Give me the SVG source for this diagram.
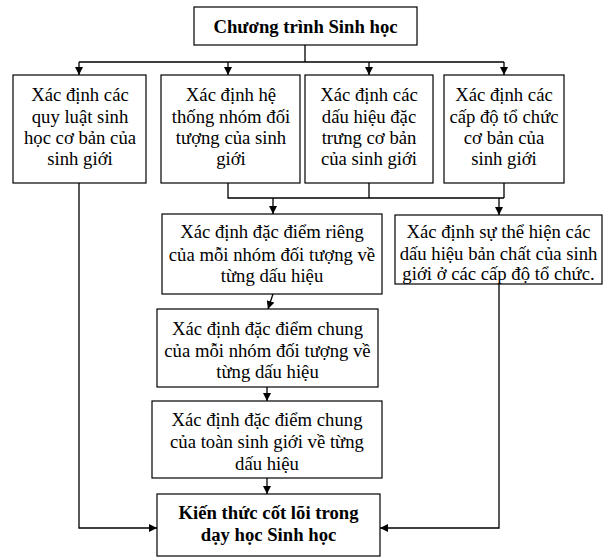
<svg xmlns="http://www.w3.org/2000/svg" width="606" height="560" viewBox="0 0 606 560">
<defs>
<marker id="ah" markerWidth="8" markerHeight="8" refX="8" refY="4" orient="auto" markerUnits="userSpaceOnUse">
<path d="M0,0 L8,4 L0,8 Z" fill="#000"/>
</marker>
<style>
.box{fill:#fff;stroke:#000;stroke-width:1.2}
.t{font-family:"Liberation Serif","Times New Roman",serif;font-size:18.7px;fill:#000;text-anchor:middle}
.b{font-weight:bold}
.c{fill:none;stroke:#000;stroke-width:1.3}
.a{marker-end:url(#ah)}
</style>
</defs>
<rect width="606" height="560" fill="#fff"/>
<g id="connectors">
<path class="c" d="M305,45 V62 M79,62 H504"/>
<path class="c a" d="M79,62 V75"/>
<path class="c a" d="M228,62 V75"/>
<path class="c a" d="M369,62 V75"/>
<path class="c a" d="M504,62 V75"/>
<path class="c" d="M228,183 V198 H504 M369,183 V198 M504,183 V198"/>
<path class="c a" d="M273,198 V214"/>
<path class="c a" d="M499,198 V215"/>
<path class="c a" d="M273,294 L268,309"/>
<path class="c a" d="M267,387 V401"/>
<path class="c a" d="M267,478 V494"/>
<path class="c a" d="M79,183 V528 H157"/>
<path class="c a" d="M499,284 V528 H380"/>
</g>
<g id="n0">
<rect class="box" x="194" y="7" width="223" height="38"/>
<text class="t b" x="305.5" y="33">Chương trình Sinh học</text>
</g>
<g id="n1">
<rect class="box" x="13" y="75" width="133" height="108"/>
<text class="t" x="80" y="101">Xác định các</text>
<text class="t" x="80" y="123">quy luật sinh</text>
<text class="t" x="80" y="144">học cơ bản của</text>
<text class="t" x="80" y="165">sinh giới</text>
</g>
<g id="n2">
<rect class="box" x="161" y="75" width="139" height="108"/>
<text class="t" x="231" y="101">Xác định hệ</text>
<text class="t" x="231" y="123">thống nhóm đối</text>
<text class="t" x="231" y="144">tượng của sinh</text>
<text class="t" x="231" y="165">giới</text>
</g>
<g id="n3">
<rect class="box" x="305" y="75" width="128" height="108"/>
<text class="t" x="369" y="101">Xác định các</text>
<text class="t" x="369" y="123">dấu hiệu đặc</text>
<text class="t" x="369" y="144">trưng cơ bản</text>
<text class="t" x="369" y="165">của sinh giới</text>
</g>
<g id="n4">
<rect class="box" x="444" y="75" width="120" height="108"/>
<text class="t" x="504" y="101">Xác định các</text>
<text class="t" x="504" y="123">cấp độ tổ chức</text>
<text class="t" x="504" y="144">cơ bản của</text>
<text class="t" x="504" y="165">sinh giới</text>
</g>
<g id="n5">
<rect class="box" x="162" y="214" width="220" height="80"/>
<text class="t" x="272" y="238">Xác định đặc điểm riêng</text>
<text class="t" x="272" y="261">của mỗi nhóm đối tượng về</text>
<text class="t" x="272" y="282">từng dấu hiệu</text>
</g>
<g id="n6">
<rect class="box" x="395" y="215" width="207" height="69"/>
<text class="t" x="498.5" y="238">Xác định sự thể hiện các</text>
<text class="t" x="498.5" y="260">dấu hiệu bản chất của sinh</text>
<text class="t" x="498.5" y="280">giới ở các cấp độ tổ chức.</text>
</g>
<g id="n7">
<rect class="box" x="157" y="309" width="221" height="78"/>
<text class="t" x="267.5" y="335">Xác định đặc điểm chung</text>
<text class="t" x="267.5" y="357">của mỗi nhóm đối tượng về</text>
<text class="t" x="267.5" y="378">từng dấu hiệu</text>
</g>
<g id="n8">
<rect class="box" x="152" y="401" width="230" height="77"/>
<text class="t" x="267" y="426">Xác định đặc điểm chung</text>
<text class="t" x="267" y="448">của toàn sinh giới về từng</text>
<text class="t" x="267" y="470">dấu hiệu</text>
</g>
<g id="n9">
<rect class="box" x="157" y="494" width="223" height="62"/>
<text class="t b" x="268.5" y="519">Kiến thức cốt lõi trong</text>
<text class="t b" x="268.5" y="541">dạy học Sinh học</text>
</g>
</svg>
